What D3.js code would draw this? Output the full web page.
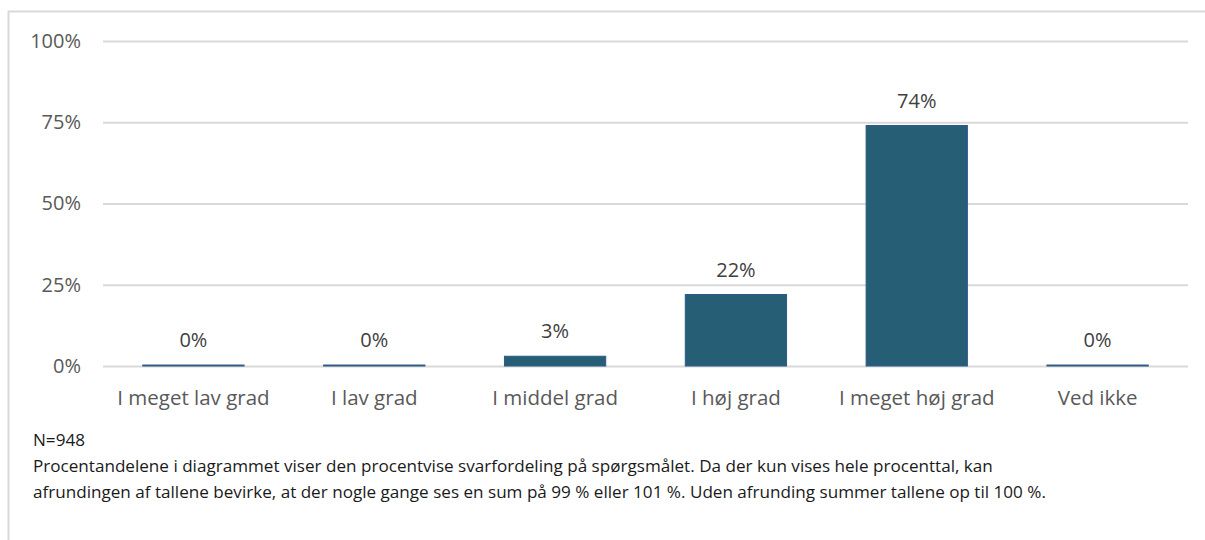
<!DOCTYPE html>
<html>
<head>
<meta charset="utf-8">
<script src="https://cdn.jsdelivr.net/npm/d3@7"></script>
<style>
    body { margin: 0; background: #fff; }
    svg text { font-family: "Open Sans", Lato, sans-serif; }
</style>
</head>
<body>
<div id="chart"></div>
<script>
// data
var categories = ["I meget lav grad", "I lav grad", "I middel grad", "I høj grad", "I meget høj grad", "Ved ikke"];
var values = [0.3, 0.3, 3, 22, 74, 0.3];
var valueLabels = ["0%", "0%", "3%", "22%", "74%", "0%"];
var yTicks = [0, 25, 50, 75, 100];
var noteLines = [
    "N=948",
    "Procentandelene i diagrammet viser den procentvise svarfordeling på spørgsmålet. Da der kun vises hele procenttal, kan",
    "afrundingen af tallene bevirke, at der nogle gange ses en sum på 99 % eller 101 %. Uden afrunding summer tallene op til 100 %."
];

var w = 1205, h = 540;
var plotLeft = 103, plotRight = 1188, plotTop = 41, plotBottom = 366;

var svg = d3.select("#chart").append("svg")
    .attr("width", w)
    .attr("height", h);

/* FRAME */
svg.append("path")
    .attr("d", "M8.5," + h + " L8.5,11.5 L" + w + ",11.5")
    .attr("fill", "none")
    .attr("stroke", "#d9d9d9")
    .attr("stroke-width", 2);

/* SCALES */
var xScale = d3.scaleBand()
    .domain(categories)
    .range([plotLeft, plotRight])
    .paddingInner(0.44)
    .paddingOuter(0.22);

var yScale = d3.scaleLinear()
    .domain([0, 100])
    .range([plotBottom, plotTop]);

/* GRID + Y AXIS */
var yAxis = d3.axisLeft(yScale)
    .tickValues(yTicks)
    .tickSize(-(plotRight - plotLeft))
    .tickPadding(22)
    .tickFormat(d => d + "%");

var gy = svg.append("g")
    .attr("transform", "translate(" + plotLeft + ",0)")
    .call(yAxis);
gy.select(".domain").remove();
gy.selectAll("line").attr("stroke", "#d9d9d9").attr("stroke-width", 2);
gy.selectAll("text")
    .attr("fill", "#595959")
    .style("font-size", "20px");

/* BARS */
svg.selectAll("rect.bar")
    .data(values)
    .enter()
    .append("rect")
    .attr("class", "bar")
    .attr("x", (d, i) => xScale(categories[i]))
    .attr("width", xScale.bandwidth())
    .attr("y", d => yScale(d))
    .attr("height", d => yScale(0) - yScale(d))
    .attr("fill", "#265F75")
    .attr("stroke", "#2F5A88")
    .attr("stroke-width", 1);

/* VALUE LABELS */
svg.selectAll("text.val")
    .data(values)
    .enter()
    .append("text")
    .attr("class", "val")
    .attr("x", (d, i) => xScale(categories[i]) + xScale.bandwidth() / 2)
    .attr("y", d => yScale(d) - 18)
    .attr("text-anchor", "middle")
    .attr("fill", "#404040")
    .style("font-size", "20px")
    .text((d, i) => valueLabels[i]);

/* X AXIS LABELS */
var xAxis = d3.axisBottom(xScale).tickSize(0).tickPadding(24);
var gx = svg.append("g")
    .attr("transform", "translate(0," + plotBottom + ")")
    .call(xAxis);
gx.select(".domain").remove();
gx.selectAll("text")
    .attr("fill", "#595959")
    .style("font-size", "20.5px");

/* NOTE */
svg.selectAll("text.note")
    .data(noteLines)
    .enter()
    .append("text")
    .attr("class", "note")
    .attr("x", 33)
    .attr("y", (d, i) => 446 + i * 26)
    .attr("fill", "#1a1a1a")
    .style("font-size", "17.1px")
    .text(d => d);
</script>
</body>
</html>
